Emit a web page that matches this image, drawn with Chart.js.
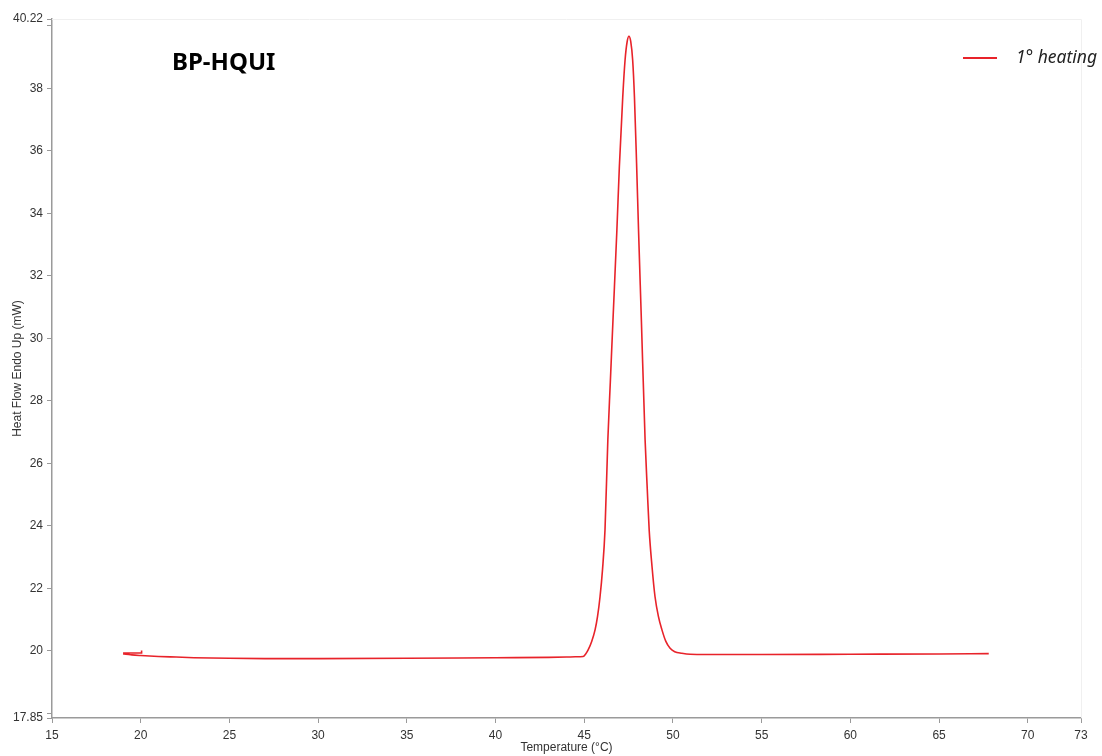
<!DOCTYPE html>
<html>
<head>
<meta charset="utf-8">
<script src="https://cdn.jsdelivr.net/npm/chart.js@4.4.1/dist/chart.umd.min.js"></script>
<style>
  html, body { margin: 0; padding: 0; background: #ffffff; }
  #wrap { width: 1102px; height: 756px; }
</style>
</head>
<body>
<div id="wrap"><canvas id="dsc"></canvas></div>
<script>
// temperature (°C) and heat flow (mW)
var temperature = [20.05, 20.05, 19.05, 19.05, 19.5, 20, 21, 22, 23, 25, 27, 30, 35, 40, 43, 44, 44.5, 44.94, 45.08, 45.22, 45.42, 45.61, 45.75, 45.89, 46.03, 46.17, 46.33, 46.47, 46.62, 46.84, 46.98, 47.17, 47.30, 47.42, 47.52, 47.62, 47.73, 47.83, 47.95, 48.06, 48.22, 48.43, 48.55, 48.66, 48.82, 48.99, 49.18, 49.38, 49.60, 49.84, 50.10, 50.50, 50.97, 53, 55, 60, 65, 67.8];
var heatFlow = [20.01, 19.93, 19.93, 19.90, 19.87, 19.85, 19.82, 19.80, 19.78, 19.76, 19.75, 19.75, 19.76, 19.78, 19.79, 19.80, 19.81, 19.82, 19.90, 20.03, 20.30, 20.67, 21.10, 21.73, 22.60, 23.87, 26.75, 28.60, 30.59, 33.47, 35.50, 37.72, 38.90, 39.50, 39.67, 39.50, 38.90, 37.72, 35.60, 33.47, 30.59, 26.75, 25.20, 23.87, 22.70, 21.73, 21.10, 20.67, 20.30, 20.08, 19.97, 19.92, 19.89, 19.88, 19.88, 19.89, 19.90, 19.91];

var xTicks = [15, 20, 25, 30, 35, 40, 45, 50, 55, 60, 65, 70, 73];
var yTicks = [17.85, 18, 20, 22, 24, 26, 28, 30, 32, 34, 36, 38, 40, 40.22];
var yHidden = [18, 40];

var seriesName = '1° heating';
var sampleName = 'BP-HQUI';

var points = temperature.map(function (t, i) { return { x: t, y: heatFlow[i] }; });

// sample name and legend floating inside the plot
var overlay = {
  id: 'overlay',
  afterDraw: function (chart) {
    var ctx = chart.ctx;
    var a = chart.chartArea;
    ctx.save();
    ctx.strokeStyle = '#f0f0f0';
    ctx.lineWidth = 1;
    ctx.beginPath();
    ctx.moveTo(a.left, a.top + 0.5);
    ctx.lineTo(a.right + 0.5, a.top + 0.5);
    ctx.lineTo(a.right + 0.5, a.bottom);
    ctx.stroke();

    ctx.fillStyle = '#000000';
    ctx.font = 'bold 24px "Noto Sans"';
    ctx.textBaseline = 'middle';
    ctx.textAlign = 'left';
    ctx.fillText(sampleName, 172, 63);

    ctx.strokeStyle = '#e8232a';
    ctx.lineWidth = 2;
    ctx.beginPath();
    ctx.moveTo(963, 58);
    ctx.lineTo(997, 58);
    ctx.stroke();
    ctx.fillStyle = '#222222';
    ctx.font = 'italic 17.5px "Noto Sans"';
    ctx.fillText(seriesName, 1016, 58);
    ctx.restore();
  }
};

new Chart(document.getElementById('dsc'), {
  type: 'scatter',
  data: {
    datasets: [{
      label: seriesName,
      data: points,
      showLine: true,
      borderColor: '#e8232a',
      borderWidth: 1.6,
      pointRadius: 0,
      cubicInterpolationMode: 'monotone',
      fill: false
    }]
  },
  options: {
    responsive: true,
    maintainAspectRatio: false,
    animation: false,
    layout: { padding: { top: 19, right: 21, bottom: 0, left: 0 } },
    plugins: {
      legend: { display: false },
      tooltip: { enabled: false }
    },
    scales: {
      x: {
        type: 'linear',
        min: 15,
        max: 73,
        afterBuildTicks: function (s) { s.ticks = xTicks.map(function (v) { return { value: v }; }); },
        afterFit: function (s) { s.height = 38; },
        grid: { drawOnChartArea: false, drawTicks: true, tickLength: 5, color: '#9a9a9a' },
        border: { color: '#9a9a9a', width: 1.5 },
        ticks: {
          padding: 5,
          maxRotation: 0,
          autoSkip: false,
          color: '#333333',
          font: { family: '"Liberation Sans", Arial, sans-serif', size: 12 }
        },
        title: {
          display: true,
          text: 'Temperature (°C)',
          color: '#333333',
          padding: { top: 0, bottom: 1 },
          font: { family: '"Liberation Sans", Arial, sans-serif', size: 12 }
        }
      },
      y: {
        type: 'linear',
        min: 17.85,
        max: 40.22,
        afterBuildTicks: function (s) { s.ticks = yTicks.map(function (v) { return { value: v }; }); },
        afterFit: function (s) { s.width = 52; },
        grid: { drawOnChartArea: false, drawTicks: true, tickLength: 5, color: '#9a9a9a' },
        border: { color: '#9a9a9a', width: 1.5 },
        ticks: {
          padding: 4,
          autoSkip: false,
          color: '#333333',
          font: { family: '"Liberation Sans", Arial, sans-serif', size: 12 },
          callback: function (v) { return yHidden.indexOf(v) >= 0 ? '' : String(v); }
        },
        title: {
          display: true,
          text: 'Heat Flow Endo Up (mW)',
          color: '#333333',
          padding: { top: 10, bottom: 0 },
          font: { family: '"Liberation Sans", Arial, sans-serif', size: 12 }
        }
      }
    }
  },
  plugins: [overlay]
});
</script>
</body>
</html>
